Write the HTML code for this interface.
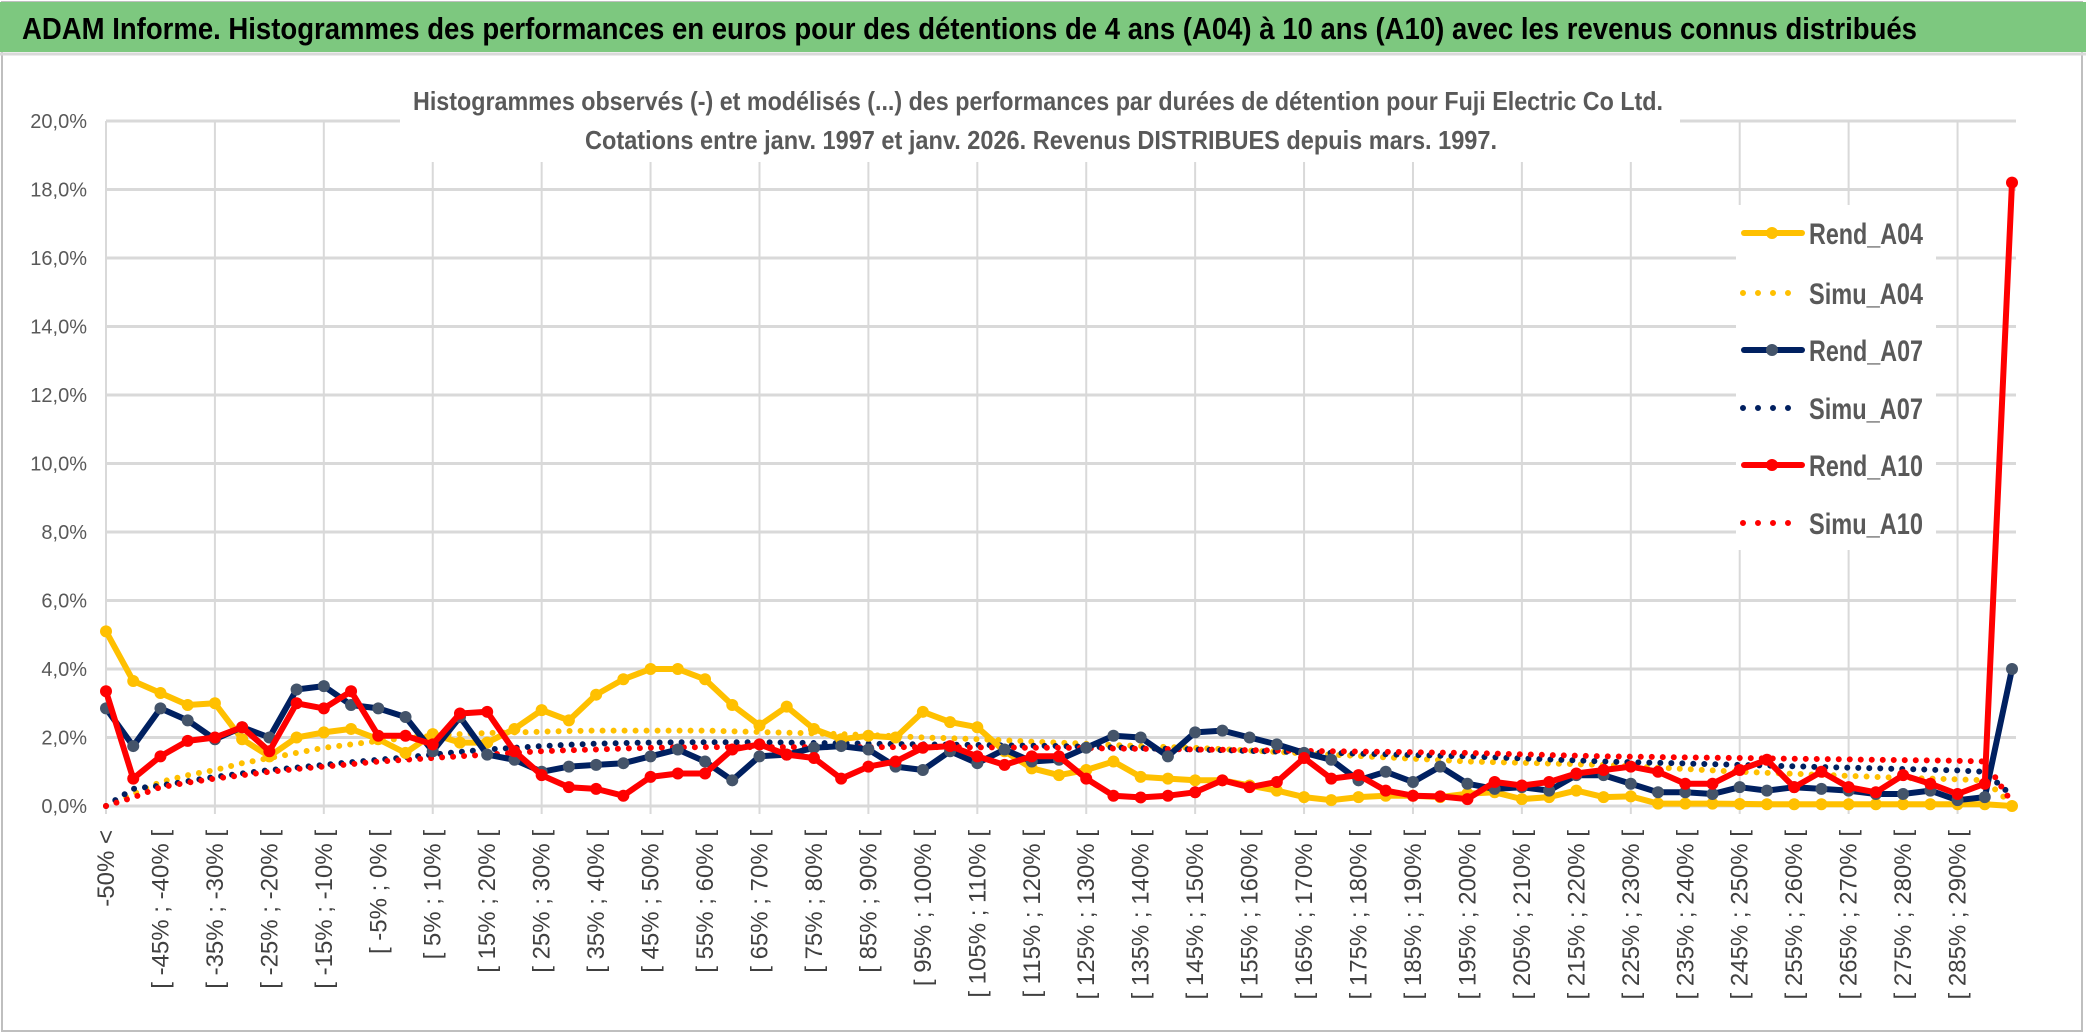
<!DOCTYPE html>
<html><head><meta charset="utf-8"><style>
html,body{margin:0;padding:0;background:#fff;}
svg{display:block;font-family:"Liberation Sans Narrow","Liberation Sans",sans-serif;}
</style></head><body>
<svg id="chart" width="2086" height="1033" viewBox="0 0 2086 1033" xmlns="http://www.w3.org/2000/svg">
<rect x="0" y="0" width="2086" height="1033" fill="#fff"/>
<rect x="2" y="2" width="2080" height="1029" fill="none" stroke="#bfbfbf" stroke-width="2"/>
<rect x="0" y="2" width="2086" height="50" fill="#7DC87F"/>
<line x1="0" y1="54" x2="2086" y2="54" stroke="#d9d9d9" stroke-width="3"/>
<text x="22" y="39" font-size="31" font-weight="bold" fill="#000" textLength="1895" lengthAdjust="spacingAndGlyphs">ADAM Informe. Histogrammes des performances en euros pour des détentions de 4 ans (A04) à 10 ans (A10) avec les revenus connus distribués</text>
<g id="grid"></g>
<rect x="400" y="78" width="1280" height="84" fill="#fff"/>
<text x="1038" y="110" font-size="26" font-weight="bold" fill="#595959" text-anchor="middle" textLength="1250" lengthAdjust="spacingAndGlyphs">Histogrammes observés (-) et modélisés (...) des performances par durées de détention pour Fuji Electric Co Ltd.</text>
<text x="1041" y="149" font-size="26" font-weight="bold" fill="#595959" text-anchor="middle" textLength="912" lengthAdjust="spacingAndGlyphs">Cotations entre janv. 1997 et janv. 2026. Revenus DISTRIBUES depuis mars. 1997.</text>
<g id="yaxis"></g>
<g id="xaxis"></g>
<g id="series"></g>
<g id="legend"></g>
</svg>
<script>
const yTicks = [0,2,4,6,8,10,12,14,16,18,20];
const categories = (function(){ const c=["-50% <"]; for(let k=-50;k<300;k+=5){c.push("[ "+k+"% ; "+(k+5)+"% [");} return c; })();
const rendA04 = [5.1,3.65,3.3,2.95,3.0,1.95,1.45,2.0,2.15,2.25,1.95,1.55,2.1,1.85,1.85,2.25,2.8,2.5,3.25,3.7,4.0,4.0,3.7,2.95,2.35,2.9,2.25,1.95,2.05,2.0,2.75,2.45,2.3,1.6,1.1,0.9,1.05,1.3,0.85,0.8,0.75,0.75,0.6,0.45,0.26,0.17,0.26,0.3,0.3,0.26,0.36,0.4,0.2,0.26,0.45,0.26,0.28,0.07,0.07,0.07,0.06,0.05,0.05,0.05,0.05,0.05,0.05,0.05,0.05,0.05,0.0];
const simuA04 = [0,0.35,0.7,0.9,1.05,1.25,1.4,1.55,1.7,1.8,1.9,1.98,2.05,2.1,2.13,2.15,2.17,2.19,2.2,2.2,2.2,2.2,2.2,2.18,2.16,2.14,2.12,2.1,2.07,2.04,2.0,1.98,1.95,1.92,1.88,1.85,1.82,1.78,1.75,1.72,1.7,1.66,1.62,1.58,1.54,1.5,1.46,1.42,1.38,1.34,1.3,1.28,1.26,1.24,1.22,1.2,1.16,1.12,1.08,1.04,1.0,0.97,0.94,0.91,0.88,0.85,0.82,0.8,0.78,0.75,0.05];
const rendA07 = [2.85,1.75,2.85,2.5,1.95,2.3,2.0,3.4,3.5,2.95,2.85,2.6,1.6,2.6,1.5,1.35,1.0,1.15,1.2,1.25,1.45,1.65,1.3,0.75,1.45,1.5,1.7,1.75,1.65,1.15,1.05,1.6,1.25,1.65,1.3,1.35,1.7,2.05,2.0,1.45,2.15,2.2,2.0,1.8,1.55,1.35,0.75,1.0,0.7,1.15,0.65,0.5,0.55,0.45,0.9,0.9,0.65,0.4,0.4,0.35,0.55,0.45,0.55,0.5,0.45,0.35,0.35,0.45,0.17,0.26,4.0];
const simuA07 = [0,0.5,0.6,0.72,0.85,0.95,1.05,1.12,1.2,1.28,1.35,1.42,1.5,1.58,1.65,1.7,1.75,1.79,1.82,1.84,1.85,1.86,1.86,1.86,1.86,1.85,1.84,1.83,1.82,1.81,1.8,1.79,1.78,1.77,1.76,1.75,1.73,1.71,1.69,1.67,1.65,1.63,1.61,1.59,1.57,1.55,1.53,1.51,1.49,1.47,1.45,1.42,1.39,1.36,1.33,1.3,1.28,1.26,1.24,1.22,1.2,1.18,1.16,1.14,1.12,1.1,1.08,1.06,1.04,1.0,0.3];
const rendA10 = [3.35,0.8,1.45,1.9,2.0,2.3,1.6,3.0,2.85,3.35,2.05,2.05,1.8,2.7,2.75,1.6,0.9,0.55,0.5,0.3,0.85,0.95,0.95,1.65,1.8,1.5,1.4,0.8,1.15,1.3,1.7,1.75,1.45,1.2,1.45,1.45,0.8,0.3,0.25,0.3,0.4,0.75,0.55,0.7,1.4,0.8,0.9,0.45,0.3,0.28,0.2,0.7,0.6,0.7,0.95,1.05,1.15,1.0,0.65,0.65,1.05,1.35,0.55,1.0,0.55,0.4,0.9,0.65,0.35,0.65,18.2];
const simuA10 = [0,0.25,0.55,0.68,0.8,0.9,1.0,1.08,1.15,1.22,1.3,1.35,1.4,1.45,1.5,1.55,1.6,1.63,1.65,1.68,1.7,1.71,1.72,1.72,1.72,1.72,1.72,1.72,1.72,1.72,1.72,1.72,1.71,1.71,1.7,1.7,1.69,1.68,1.67,1.66,1.65,1.64,1.63,1.62,1.61,1.6,1.59,1.58,1.57,1.56,1.55,1.53,1.51,1.49,1.47,1.45,1.44,1.43,1.42,1.41,1.4,1.39,1.38,1.37,1.36,1.35,1.34,1.33,1.32,1.3,0.1];
const seriesNames = ["Rend_A04","Simu_A04","Rend_A07","Simu_A07","Rend_A10","Simu_A10"];

const NS="http://www.w3.org/2000/svg";
const X0=106, X1=2012, Y0=806, Y20=121;
function x(i){ return X0 + i*(X1-X0)/(categories.length-1); }
function y(v){ return Y0 - v*(Y0-Y20)/20; }
function mk(tag, attrs, parent){ const e=document.createElementNS(NS,tag); for(const k in attrs) e.setAttribute(k, attrs[k]); parent.appendChild(e); return e; }

const grid=document.getElementById('grid');
yTicks.forEach(t=>{
  const l=mk('line',{x1:X0,x2:2016,y1:y(t),y2:y(t),stroke:'#d9d9d9','stroke-width':3},grid);
  
  
});
for(let i=0;i<categories.length;i+=4){
  const l=mk('line',{x1:x(i),x2:x(i),y1:Y20,y2:Y0+8,stroke:'#d9d9d9','stroke-width':2},grid);
  
  
}
const ya=document.getElementById('yaxis');
yTicks.forEach(t=>{
  const tx=mk('text',{x:87,y:y(t)+7,'font-size':20,fill:'#595959','text-anchor':'end'},ya);
  tx.textContent=t.toFixed(1).replace('.',',')+'%';
  
  
});
const xa=document.getElementById('xaxis');
for(let i=0;i<categories.length-1;i+=2){
  const xi=x(i)+8;
  const tx=mk('text',{x:xi,y:830,'font-size':24,fill:'#404040','text-anchor':'end',transform:'rotate(-90 '+xi+' 830)'},xa);
  tx.textContent=categories[i];
  
  
}
const sg=document.getElementById('series');
function pts(arr){ return arr.map((v,i)=>x(i).toFixed(1)+','+y(v).toFixed(1)).join(' '); }
function dotted(arr,color,name){
  const p=mk('polyline',{points:pts(arr),fill:'none',stroke:color,'stroke-width':6,'stroke-linecap':'round','stroke-dasharray':'0 11'},sg);
  
  
}
function solid(arr,color,marker,name){
  const p=mk('polyline',{points:pts(arr),fill:'none',stroke:color,'stroke-width':6,'stroke-linejoin':'round'},sg);
  
  
  arr.forEach((v,i)=>{
    const c=mk('circle',{cx:x(i),cy:y(v),r:6,fill:marker},sg);
    
    
  });
}
dotted(simuA04,'#FFC000','simu-a04-line');
dotted(simuA07,'#002060','simu-a07-line');
dotted(simuA10,'#FF0000','simu-a10-line');
solid(rendA04,'#FFC000','#FFC000','rend-a04-line');
solid(rendA07,'#002060','#44546A','rend-a07-line');
solid(rendA10,'#FF0000','#FF0000','rend-a10-line');

const lg=document.getElementById('legend');
const bg=mk('rect',{x:1736,y:205,width:200,height:345,fill:'#fff'},lg);


const lgColors=['#FFC000','#FFC000','#002060','#002060','#FF0000','#FF0000'];
const lgMarker=['#FFC000',null,'#44546A',null,'#FF0000',null];
const lgY=[233,293,350,408,465,523];
seriesNames.forEach((n,k)=>{
  const yy=lgY[k];
  if(lgMarker[k]){
    const l=mk('line',{x1:1744,x2:1802,y1:yy,y2:yy,stroke:lgColors[k],'stroke-width':6,'stroke-linecap':'round'},lg);
    
    
    const c=mk('circle',{cx:1772,cy:yy,r:6,fill:lgMarker[k]},lg);
    
    
  } else {
    const l=mk('line',{x1:1743,x2:1803,y1:yy,y2:yy,stroke:lgColors[k],'stroke-width':6,'stroke-linecap':'round','stroke-dasharray':'0 15'},lg);
    
    
  }
  const t=mk('text',{x:1809,y:yy+11,'font-size':30,'font-weight':'bold',fill:'#595959',textLength:114,lengthAdjust:'spacingAndGlyphs'},lg);
  t.textContent=n;
  
  
});
</script>
</body></html>
